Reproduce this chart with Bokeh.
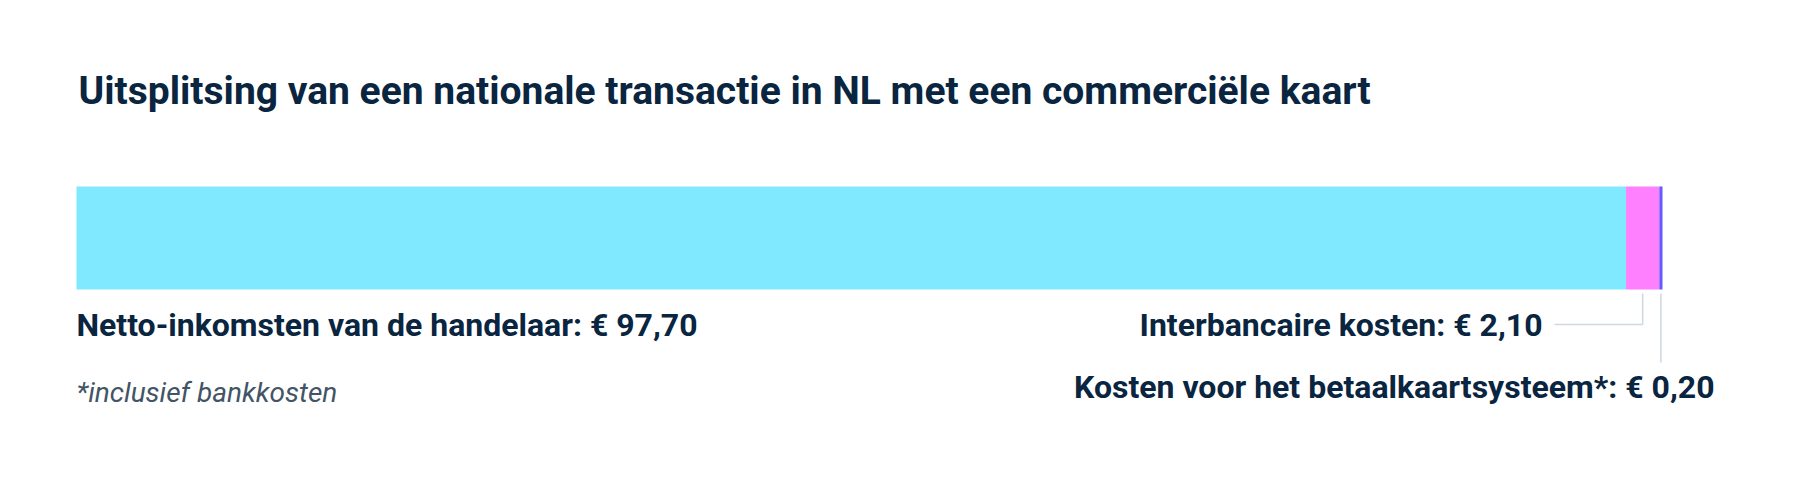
from bokeh.plotting import figure
from bokeh.models import Range1d
from bokeh.core.properties import value
from bokeh.embed import file_html
from bokeh.resources import INLINE

# ---- data ----
title_text = "Uitsplitsing van een nationale transactie in NL met een commerciële kaart"
segments = ["Netto-inkomsten van de handelaar", "Interbancaire kosten", "Kosten voor het betaalkaartsysteem*"]
values = [97.70, 2.10, 0.20]
value_labels = ["€ 97,70", "€ 2,10", "€ 0,20"]
colors = ["#80e9ff", "#ff80ff", "#635bff"]
footnote = "*inclusief bankkosten"

# ---- layout (screenshot pixels) ----
W, H = 1778, 470
bar_left_px, bar_right_px = 76, 1662
scale = (bar_right_px - bar_left_px) / sum(values)
x0 = -bar_left_px / scale
x1 = x0 + W / scale

def px(x):
    return x / scale + x0

NAVY = "#0a2540"
FONT = "Roboto"

p = figure(width=W, height=H, output_backend="svg", toolbar_location=None,
           x_range=Range1d(x0, x1), y_range=Range1d(H, 0),
           min_border=0, outline_line_color=None)
p.axis.visible = False
p.grid.visible = False
p.background_fill_color = "white"
p.border_fill_color = "white"

# stacked bar
lefts, rights = [], []
acc = 0.0
for v in values:
    lefts.append(acc)
    acc += v
    rights.append(acc)
p.quad(left=lefts, right=rights, top=[186] * 3, bottom=[289] * 3,
       fill_color=colors, line_color=None)

mids = [(l + r) / 2 for l, r in zip(lefts, rights)]

# connectors
LINE = "#cfd7df"
p.line([px(1554), mids[1], mids[1]], [324, 324, 293], line_color=LINE, line_width=1.5)
p.line([mids[2], mids[2]], [293, 362], line_color=LINE, line_width=1.5)

# title
p.text(x=[px(78)], y=[90], text=[title_text], text_font=value(FONT),
       text_font_style="bold", text_font_size="39px", text_color=NAVY,
       text_baseline="alphabetic", text_align="left")

# labels
p.text(x=[lefts[0]], y=[324], text=[f"{segments[0]}: {value_labels[0]}"],
       text_font=value(FONT), text_font_style="bold", text_font_size="32px",
       text_color=NAVY, text_baseline="alphabetic", text_align="left")
p.text(x=[px(1542)], y=[324], text=[f"{segments[1]}: {value_labels[1]}"],
       text_font=value(FONT), text_font_style="bold", text_font_size="32px",
       text_color=NAVY, text_baseline="alphabetic", text_align="right")
p.text(x=[px(1714)], y=[386], text=[f"{segments[2]}: {value_labels[2]}"],
       text_font=value(FONT), text_font_style="bold", text_font_size="32px",
       text_color=NAVY, text_baseline="alphabetic", text_align="right")

# footnote
p.text(x=[lefts[0]], y=[392], text=[footnote], text_font=value(FONT),
       text_font_style="italic", text_font_size="28px", text_color="#425466",
       text_baseline="alphabetic", text_align="left")

open("out.html", "w").write(file_html(p, INLINE))
